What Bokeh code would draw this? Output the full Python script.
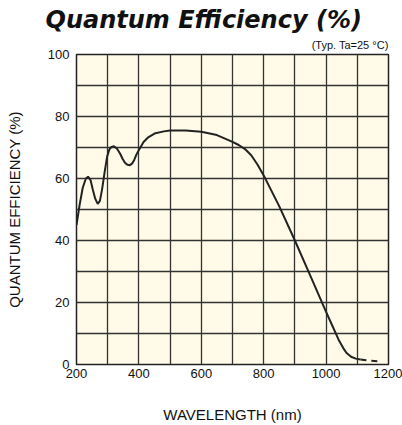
from bokeh.plotting import figure
from bokeh.models import Range1d, FixedTicker, Title
from bokeh.embed import file_html
from bokeh.resources import INLINE

# Data
wavelength = [200, 210, 220, 230, 237, 245, 252, 260, 268, 275, 282, 290, 298, 305, 312, 320, 330, 340, 348, 356,
              364, 371, 378, 385, 392, 400, 415, 430, 450, 480, 500, 550, 600, 650, 700, 720, 740, 760, 780, 800,
              825, 850, 900, 950, 1000, 1020, 1040, 1055, 1065, 1080, 1095, 1110]
qe = [45, 51.5, 57, 60.0, 60.6, 59.5, 56.5, 53.5, 51.8, 52.8, 56.5, 62.0, 67.0, 69.3, 70.2, 70.4, 69.6, 68.0, 66.3, 65.0,
      64.4, 64.3, 64.8, 66.0, 67.7, 69.2, 71.8, 73.3, 74.5, 75.2, 75.5, 75.5, 75.1, 74.0, 71.8, 70.8, 69.5, 67.5, 64.5, 61.0,
      56.0, 51.0, 40.0, 28.5, 17.0, 12.5, 8.0, 5.3, 3.8, 2.5, 1.9, 1.6]
ext_wavelength = [1110, 1140, 1180]
ext_qe = [1.6, 1.2, 1.0]

x_ticks = [200, 400, 600, 800, 1000, 1200]
y_ticks = [0, 20, 40, 60, 80, 100]
x_grid = [200, 300, 400, 500, 600, 700, 800, 900, 1000, 1100, 1200]
y_grid = [0, 10, 20, 30, 40, 50, 60, 70, 80, 90, 100]

title_text = "Quantum Efficiency (%)"
subtitle_text = "(Typ. Ta=25 \u00b0C)"
x_label = "WAVELENGTH (nm)"
y_label = "QUANTUM EFFICIENCY (%)"

p = figure(width=402, height=425, output_backend="svg", toolbar_location=None,
           x_range=Range1d(200, 1200), y_range=Range1d(0, 100),
           min_border_left=76, min_border_right=14, min_border_top=54, min_border_bottom=60)

p.background_fill_color = "#FFFBE8"
p.border_fill_color = "white"
p.outline_line_color = "#222222"
p.outline_line_width = 1.5

p.xaxis.ticker = FixedTicker(ticks=x_ticks)
p.yaxis.ticker = FixedTicker(ticks=y_ticks)
p.xgrid.ticker = FixedTicker(ticks=x_grid)
p.ygrid.ticker = FixedTicker(ticks=y_grid)
for g in (p.xgrid, p.ygrid):
    g.grid_line_color = "#333333"
    g.grid_line_width = 1.3
    g.grid_line_alpha = 1.0

for ax in (p.xaxis, p.yaxis):
    ax.axis_line_color = None
    ax.major_tick_line_color = None
    ax.minor_tick_line_color = None
    ax.major_tick_out = 0
    ax.major_tick_in = 0
    ax.major_label_text_font = "Liberation Sans"
    ax.major_label_text_font_size = "13px"
    ax.major_label_text_color = "#111111"
    ax.axis_label_text_font = "Liberation Sans"
    ax.axis_label_text_font_size = "15px"
    ax.axis_label_text_font_style = "normal"
    ax.axis_label_text_color = "#111111"

p.xaxis.axis_label = x_label
p.yaxis.axis_label = y_label
p.xaxis.major_label_standoff = 4
p.yaxis.major_label_standoff = 7
p.xaxis.axis_label_standoff = 25
p.yaxis.axis_label_standoff = 22

p.line(wavelength, qe, line_color="#222222", line_width=2)
p.line(ext_wavelength, ext_qe, line_color="#222222", line_width=2, line_dash="6 5")

p.add_layout(Title(text=subtitle_text, align="right", text_font="Liberation Sans",
                   text_font_size="11px", text_font_style="normal", text_color="#111111",
                   standoff=7), "above")
p.add_layout(Title(text=title_text, align="left", offset=-31, text_font="DejaVu Sans",
                   text_font_size="24px", text_font_style="bold italic", text_color="#111111",
                   standoff=0), "above")

open("out.html", "w").write(file_html(p, INLINE))
